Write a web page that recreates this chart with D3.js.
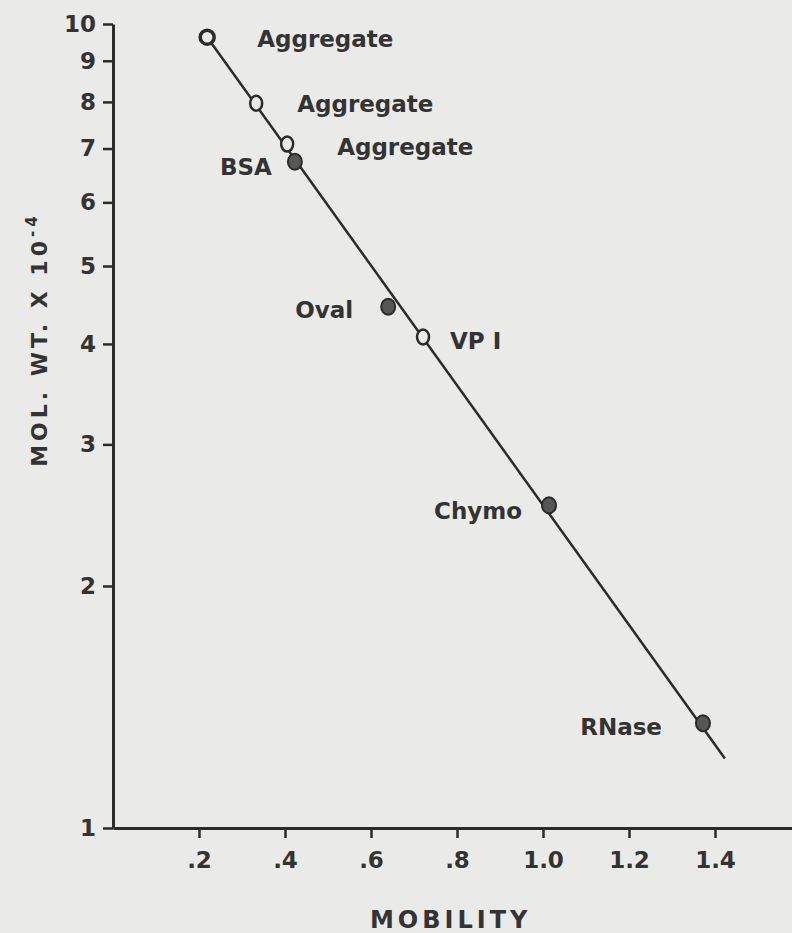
<!DOCTYPE html>
<html>
<head>
<meta charset="utf-8">
<script src="https://cdn.jsdelivr.net/npm/d3@7/dist/d3.min.js"></script>
<style>
  html, body { margin: 0; padding: 0; background: #eaeae8; }
  svg { display: block; }
  text { font-family: "DejaVu Sans", sans-serif; font-weight: bold; fill: #333; }
</style>
</head>
<body>
<svg id="chart" width="792" height="933"></svg>
<script>
// ---- data ----
const proteinNames = ["Aggregate", "Aggregate", "Aggregate", "BSA", "Oval", "VP I", "Chymo", "RNase"];
const mobility     = [0.219, 0.333, 0.405, 0.423, 0.640, 0.721, 1.014, 1.372];
const molWt        = [9.63, 7.97, 7.09, 6.74, 4.45, 4.08, 2.52, 1.35];
const markerKind   = ["open", "open", "open", "filled", "filled", "open", "filled", "filled"];
const fitMobility  = [0.219, 1.423];
const fitMolWt     = [9.63, 1.22];
const xTicks       = [0.2, 0.4, 0.6, 0.8, 1.0, 1.2, 1.4];
const xTickLabels  = [".2", ".4", ".6", ".8", "1.0", "1.2", "1.4"];
const yTicks       = [1, 2, 3, 4, 5, 6, 7, 8, 9, 10];
const yTickLabels  = ["1", "2", "3", "4", "5", "6", "7", "8", "9", "10"];
const xTitle = "MOBILITY";
const yTitle = "MOL. WT. X 10";
const yTitleExp = "-4";

// ---- layout (styling only) ----
const ink = "#2b2b2b";
const bg = "#eaeae8";
const labelLayout = [
  {dx: 50, dy: 10, anchor: "start"},
  {dx: 41, dy: 9, anchor: "start"},
  {dx: 50, dy: 11, anchor: "start"},
  {dx: -23, dy: 13, anchor: "end"},
  {dx: -35, dy: 11, anchor: "end"},
  {dx: 27, dy: 12, anchor: "start"},
  {dx: -27, dy: 14, anchor: "end"},
  {dx: -41, dy: 12, anchor: "end"}
];

const svg = d3.select("#chart");
const x = d3.scaleLinear().domain([0, 1.58]).range([113, 792.4]);
const y = d3.scaleLog().domain([1, 10]).range([828, 24]);

// y axis
const yAxis = d3.axisLeft(y)
  .tickValues(yTicks)
  .tickFormat((d, i) => yTickLabels[i])
  .tickSize(10).tickSizeOuter(0).tickPadding(7);
const gy = svg.append("g").attr("transform", `translate(${x(0)},0)`).call(yAxis);
gy.select(".domain").attr("stroke", ink).attr("stroke-width", 3);
gy.selectAll(".tick line").attr("stroke", ink).attr("stroke-width", 2.5);
gy.selectAll(".tick text").attr("font-size", 23).attr("fill", "#333")
  .attr("font-family", "DejaVu Sans").attr("font-weight", "bold");

// x axis
const xAxis = d3.axisBottom(x)
  .tickValues(xTicks)
  .tickFormat((d, i) => xTickLabels[i])
  .tickSize(10).tickSizeOuter(0).tickPadding(14);
const gx = svg.append("g").attr("transform", `translate(0,${y(1)})`).call(xAxis);
gx.select(".domain").attr("stroke", ink).attr("stroke-width", 3);
gx.selectAll(".tick line").attr("stroke", ink).attr("stroke-width", 2.5);
gx.selectAll(".tick text").attr("font-size", 23).attr("fill", "#333")
  .attr("font-family", "DejaVu Sans").attr("font-weight", "bold");

// axis titles
svg.append("text")
  .attr("x", (x(0) + x(1.58)) / 2 - 2)
  .attr("y", 928)
  .attr("text-anchor", "middle")
  .attr("font-size", 24)
  .attr("letter-spacing", 4)
  .text(xTitle);

const yt = svg.append("text")
  .attr("transform", `translate(47,${y(4.05)}) rotate(-90)`)
  .attr("text-anchor", "middle")
  .attr("font-size", 22)
  .attr("letter-spacing", 4);
yt.append("tspan").text(yTitle);
yt.append("tspan").attr("dy", -10).attr("font-size", 15).text(yTitleExp);

// regression line
const pts = fitMobility.map((m, i) => [x(m), y(fitMolWt[i])]);
svg.append("path")
  .attr("d", d3.line()(pts))
  .attr("fill", "none")
  .attr("stroke", ink)
  .attr("stroke-width", 2.5);

// markers
const data = proteinNames.map((n, i) => ({name: n, m: mobility[i], w: molWt[i], kind: markerKind[i], i}));
svg.selectAll("ellipse.pt").data(data).enter().append("ellipse")
  .attr("class", "pt")
  .attr("cx", d => x(d.m))
  .attr("cy", d => y(d.w))
  .attr("rx", d => d.kind === "open" ? (d.i === 0 ? 7 : 6) : 7)
  .attr("ry", d => d.kind === "open" ? (d.i === 0 ? 7 : 7.5) : 8)
  .attr("fill", d => d.kind === "open" ? bg : "#575757")
  .attr("stroke", ink)
  .attr("stroke-width", d => d.kind === "open" ? (d.i === 0 ? 3.5 : 2.5) : 2);

// labels
svg.selectAll("text.lab").data(data).enter().append("text")
  .attr("class", "lab")
  .attr("x", d => x(d.m) + labelLayout[d.i].dx)
  .attr("y", d => y(d.w) + labelLayout[d.i].dy)
  .attr("text-anchor", d => labelLayout[d.i].anchor)
  .attr("font-size", 23)
  .text(d => d.name);
</script>
</body>
</html>
